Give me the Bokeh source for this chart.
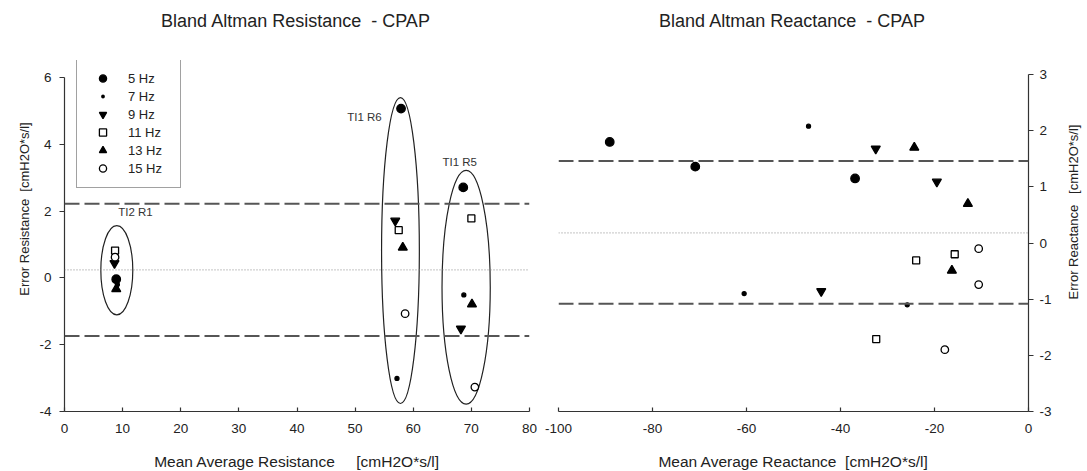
import math
from bokeh.plotting import figure
from bokeh.layouts import row, column
from bokeh.models import Span, Legend, LegendItem, FixedTicker, Div
from bokeh.core.properties import value
from bokeh.embed import file_html
from bokeh.resources import INLINE

FONT = "Liberation Sans"
NB = "\u00a0"
NAN = float("nan")

# Frequencies and their marker styles
freqs = ["5 Hz", "7 Hz", "9 Hz", "11 Hz", "13 Hz", "15 Hz"]
marker_shapes = ["circle", "circle", "inverted_triangle", "square", "triangle", "circle"]
marker_sizes = [8.5, 4, 9, 7, 9, 7.5]
marker_fills = ["black", "black", "black", "white", "black", "white"]

# Resistance: mean (x) and error (y), subjects TI2 R1, TI1 R6, TI1 R5
res_mean_5 = [8.9, 57.9, 68.6]
res_err_5 = [-0.04, 5.07, 2.71]
res_mean_7 = [9.1, 57.2, 68.7]
res_err_7 = [-0.20, -3.01, -0.51]
res_mean_9 = [8.6, 56.9, 68.2]
res_err_9 = [0.44, 1.71, -1.52]
res_mean_11 = [8.7, 57.5, 70.0]
res_err_11 = [0.82, 1.43, 1.78]
res_mean_13 = [8.9, 58.2, 70.1]
res_err_13 = [-0.33, 0.91, -0.79]
res_mean_15 = [8.7, 58.6, 70.6]
res_err_15 = [0.62, -1.07, -3.27]

# Reactance: mean (x) and error (y)
rea_mean_5 = [-89.1, -70.9, -36.9]
rea_err_5 = [1.80, 1.36, 1.15]
rea_mean_7 = [-46.8, -60.5, -25.8]
rea_err_7 = [2.08, -0.90, -1.10]
rea_mean_9 = [-32.5, -19.5, -44.1]
rea_err_9 = [1.68, 1.09, -0.86]
rea_mean_11 = [-15.7, -23.9, -32.4]
rea_err_11 = [-0.20, -0.31, -1.71]
rea_mean_13 = [-24.3, -12.9, -16.3]
rea_err_13 = [1.70, 0.70, -0.49]
rea_mean_15 = [-10.6, -10.6, -17.8]
rea_err_15 = [-0.10, -0.74, -1.90]

# Bias and limits of agreement
res_bias = 0.24
res_limits = [-1.74, 2.22]
rea_bias = 0.18
rea_limits = [-1.08, 1.46]

# Subject groups circled on the resistance plot
group_names = ["TI2 R1", "TI1 R6", "TI1 R5"]
group_cx = [9.0, 57.8, 69.1]
group_cy = [0.23, 0.82, -0.28]
group_w = [5.5, 6.5, 8.3]
group_h = [2.67, 9.16, 7.0]
group_label_x = [12.2, 51.6, 68.0]
group_label_y = [1.98, 4.83, 3.48]

# Axis ticks
res_xticks = [0, 10, 20, 30, 40, 50, 60, 70, 80]
res_yticks = [-4, -2, 0, 2, 4, 6]
rea_xticks = [-100, -80, -60, -40, -20, 0]
rea_yticks = [-3, -2, -1, 0, 1, 2, 3]

res_x = [res_mean_5, res_mean_7, res_mean_9, res_mean_11, res_mean_13, res_mean_15]
res_y = [res_err_5, res_err_7, res_err_9, res_err_11, res_err_13, res_err_15]
rea_x = [rea_mean_5, rea_mean_7, rea_mean_9, rea_mean_11, rea_mean_13, rea_mean_15]
rea_y = [rea_err_5, rea_err_7, rea_err_9, rea_err_11, rea_err_13, rea_err_15]

TXT = "#222222"
FRAME_W1, FRAME_W2, FRAME_H = 465, 470, 351
HEAD_H = 43
BORDER_TOP, BORDER_BOTTOM = 60 - HEAD_H, 60
FIG_H = BORDER_TOP + FRAME_H + BORDER_BOTTOM
SIDE_L, SIDE_R = 36, 25


def style_axis(ax, ticks, label, tick_in, tick_out, label_standoff, axis_label_standoff):
    ax.ticker = FixedTicker(ticks=ticks)
    # plain hyphen-minus for negative tick values
    ax.major_label_overrides = {t: str(t) for t in ticks}
    ax.axis_label = label
    ax.axis_line_color = "#333333"
    ax.axis_line_width = 1.2
    ax.major_tick_line_color = "#333333"
    ax.major_tick_line_width = 1.2
    ax.major_tick_in = tick_in
    ax.major_tick_out = tick_out
    ax.minor_tick_line_color = None
    ax.major_label_text_font = FONT
    ax.major_label_text_font_size = "13.5px"
    ax.major_label_text_color = TXT
    ax.major_label_standoff = label_standoff
    ax.axis_label_text_font = FONT
    ax.axis_label_text_font_size = "15.5px"
    ax.axis_label_text_font_style = "normal"
    ax.axis_label_text_color = TXT
    ax.axis_label_standoff = axis_label_standoff


def heading(text, total_w, left, frame_w):
    html = ('<div style="margin-left:%dpx;width:%dpx;height:%dpx;line-height:%dpx;'
            'text-align:center;font-family:\'%s\';font-size:18px;color:%s;'
            'white-space:pre;">%s</div>' % (left, frame_w, HEAD_H, HEAD_H, FONT, TXT, text))
    return Div(text=html, width=total_w, height=HEAD_H, margin=0)


def side_label(text, width, cx, cy):
    # vertical axis title, reading bottom-to-top, centred on (cx, cy)
    html = ('<div style="position:absolute;left:%dpx;top:%dpx;'
            'transform:translate(-50%%,-50%%) rotate(-90deg);white-space:pre;'
            'font-family:\'%s\';font-size:13px;color:%s;">%s</div>' % (cx, cy, FONT, TXT, text))
    return Div(text=html, width=width, height=FIG_H, margin=0)


def add_points(p, xs_list, ys_list):
    for xs, ys, shape, size, fill in zip(xs_list, ys_list, marker_shapes, marker_sizes, marker_fills):
        p.scatter(xs, ys, marker=shape, size=size, fill_color=fill,
                  line_color="black", line_width=1.3)


def base_figure(frame_w, x_range, y_range, y_loc, border_left, border_right):
    p = figure(title=None, frame_width=frame_w, frame_height=FRAME_H,
               x_range=x_range, y_range=y_range, y_axis_location=y_loc,
               min_border_left=border_left, min_border_right=border_right,
               min_border_top=BORDER_TOP, min_border_bottom=BORDER_BOTTOM,
               output_backend="svg", toolbar_location=None)
    p.outline_line_color = None
    p.grid.visible = False
    return p


def add_limits(p, bias, limits):
    for loc in limits:
        p.add_layout(Span(location=loc, dimension="width", line_color="#555555",
                          line_width=2, line_dash="15 5"))
    p.add_layout(Span(location=bias, dimension="width", line_color="#888888",
                      line_width=1, line_dash="1 2"))


# ---------------- Resistance ----------------
p1 = base_figure(FRAME_W1, (0, 80), (-4, 6.51), "left", 63 - SIDE_L, 12)
style_axis(p1.xaxis[0], res_xticks, "Mean Average Resistance" + NB * 4 + " [cmH2O*s/l]", 4, 0, 12, 17)
style_axis(p1.yaxis[0], res_yticks, "", 0, 5, 8, 0)
p1.yaxis[0].bounds = (-4, 6)
add_limits(p1, res_bias, res_limits)

p1.ellipse(x=group_cx, y=group_cy, width=group_w, height=group_h,
           fill_color=None, line_color="#222222", line_width=1.2)
p1.text(x=group_label_x, y=group_label_y, text=group_names, text_align="center",
        text_baseline="middle", text_font=value(FONT), text_font_size="11.5px",
        text_color="#333333")

add_points(p1, res_x, res_y)

# legend swatches: renderers with no drawable point, shown only in the legend box.
# The 7 Hz swatch is a filled circle with a wide white rim, leaving a small dot.
swatch_line_colors = ["black", "white", "black", "black", "black", "black"]
swatch_line_widths = [1.3, 3.4, 1.3, 1.3, 1.3, 1.3]
swatches = []
for shape, fill, lc, lw in zip(marker_shapes, marker_fills, swatch_line_colors, swatch_line_widths):
    swatches.append(p1.scatter(x=[NAN], y=[NAN], marker=shape, size=8, fill_color=fill,
                               line_color=lc, line_width=lw))

legend = Legend(items=[LegendItem(label=f, renderers=[r]) for f, r in zip(freqs, swatches)],
                location=(12, 223))
legend.border_line_color = "#444444"
legend.border_line_width = 1.5
legend.background_fill_color = "white"
legend.background_fill_alpha = 1
legend.padding = 10
legend.spacing = 0
legend.margin = 0
legend.glyph_height = 18
legend.glyph_width = 31
legend.label_height = 18
legend.label_width = 42
legend.label_standoff = 10
legend.label_text_font = FONT
legend.label_text_font_size = "13px"
legend.label_text_color = TXT
p1.add_layout(legend)

# ---------------- Reactance ----------------
p2 = base_figure(FRAME_W2, (-100, 0), (-3, 3.25), "right", 17, 60 - SIDE_R)
style_axis(p2.xaxis[0], rea_xticks, "Mean Average Reactance " + NB + "[cmH2O*s/l]", 4, 0, 12, 17)
style_axis(p2.yaxis[0], rea_yticks, "", 0, 5, 6, 0)
p2.yaxis[0].bounds = (-3, 3)
add_limits(p2, rea_bias, rea_limits)

add_points(p2, rea_x, rea_y)

head1 = heading("Bland Altman Resistance  - CPAP", 540, 63, FRAME_W1)
head2 = heading("Bland Altman Reactance  - CPAP", 547, 17, FRAME_W2)
ylab1 = side_label("Error Resistance  [cmH2O*s/l]", SIDE_L, 25, 209 - HEAD_H)
ylab2 = side_label("Error Reactance   [cmH2O*s/l]", SIDE_R, 11, 212 - HEAD_H)

layout = column(row(head1, head2, spacing=0),
                row(ylab1, p1, p2, ylab2, spacing=0), spacing=0)
open("out.html", "w").write(file_html(layout, INLINE))
